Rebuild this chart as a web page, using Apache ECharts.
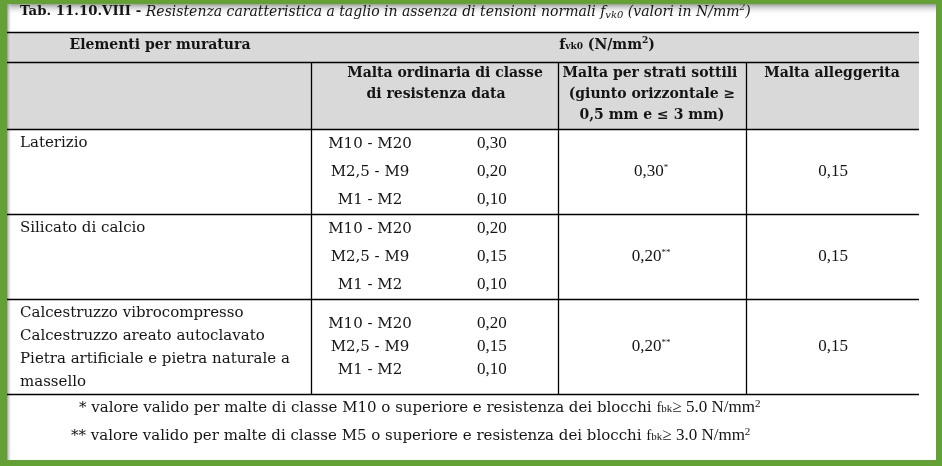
<!DOCTYPE html>
<html><head><meta charset="utf-8">
<script src="https://cdn.jsdelivr.net/npm/echarts@6/dist/echarts.min.js"></script>
<style>html,body{margin:0;padding:0;background:#fff}#c{width:942px;height:466px}</style>
</head><body><div id="c"></div>
<script>
// ---------------- DATA ----------------
const titleBold = "Tab. 11.10.VIII - ";
const titleItalic = "Resistenza caratteristica a taglio in assenza di tensioni normali ";
const titleUnit = " (valori in N/mm";
const headerElements = "Elementi per muratura";
const headerUnit = " (N/mm";
const colHeaders = [
  ["Malta ordinaria di classe", "di resistenza data"],
  ["Malta per strati sottili", "(giunto orizzontale \u2265", "0,5 mm e \u2264 3 mm)"],
  ["Malta alleggerita"]
];
const materials = [
  ["Laterizio"],
  ["Silicato di calcio"],
  ["Calcestruzzo vibrocompresso", "Calcestruzzo areato autoclavato", "Pietra artificiale e pietra naturale a", "massello"]
];
const mortarClasses = ["M10 - M20", "M2,5 - M9", "M1 - M2"];
const ordinaryValues = [
  ["0,30", "0,20", "0,10"],
  ["0,20", "0,15", "0,10"],
  ["0,20", "0,15", "0,10"]
];
const thinLayerValues = ["0,30", "0,20", "0,20"];
const thinLayerMarks = ["*", "**", "**"];
const lightweightValues = ["0,15", "0,15", "0,15"];
const footnoteMarks = ["*", "**"];
const footnoteClasses = ["M10", "M5"];
const footnoteLimits = ["5.0", "3.0"];

// ---------------- LAYOUT ----------------
const W = 942, H = 466;
const GREEN = '#64a134', INK = '#141414', HEAD = '#d9d9d9';
const P = "'DejaVu Serif', serif";
const T = "'Liberation Serif', serif";
const L = {
  tableLeft: 7, tableRight: 919,
  hTop: 32, hMid: 62, hBot: 129,
  rowLines: [214, 299, 394],
  vLines: [311, 558, 746],
  matX: 20, mortarCX: 370, valX: 477, thinCX: 651, lightCX: 833,
  colHeadCX: [[445, 436], [650, 652, 652], [832]],
  colHeadY: [73, 94, 115],
  matY: [[143], [228], [313, 336, 359, 382]],
  subY: [[144, 172, 200], [229, 257, 285], [324, 347, 370]],
  footX: [79, 71], footY: [408, 436]
};

const cv = document.createElement('canvas');
const ctx = cv.getContext('2d');
function fstr(p) { return (p.style || 'normal') + ' ' + (p.weight || 'normal') + ' ' + p.size + 'px ' + (p.fam || P); }
const els = [];
function txt(t, x, y, font, align, fill) {
  els.push({ type: 'text', x: x, y: y, silent: true, z: 10,
    style: { text: t, font: font, fill: fill || INK, align: align || 'left', verticalAlign: 'middle',
      textAlign: align || 'left', textVerticalAlign: 'middle' } });
}
function runs(parts, x, y, align) {
  const ws = parts.map(p => { ctx.font = fstr(p); return ctx.measureText(p.t).width; });
  const tot = ws.reduce((a, b) => a + b, 0);
  let sx = align === 'center' ? x - tot / 2 : x;
  parts.forEach((p, i) => { txt(p.t, sx, y + (p.dy || 0), fstr(p), 'left'); sx += ws[i]; });
}
function rect(x, y, w, h, fill, z) { els.push({ type: 'rect', silent: true, z: z || 1, shape: { x, y, width: w, height: h }, style: { fill } }); }
function line(x1, y1, x2, y2) { els.push({ type: 'line', silent: true, z: 5, shape: { x1, y1, x2, y2 }, style: { stroke: '#000', lineWidth: 1.3 } }); }

// background + header fill
rect(0, 0, W, H, '#ffffff', 0);
rect(L.tableLeft, L.hTop, L.tableRight - L.tableLeft, L.hBot - L.hTop, HEAD, 1);
// shadows
els.push({ type: 'rect', silent: true, z: 3, shape: { x: 7, y: 4, width: 929, height: 11 },
  style: { fill: new echarts.graphic.LinearGradient(0, 0, 0, 1, [{ offset: 0, color: 'rgba(140,140,140,0.85)' }, { offset: 1, color: 'rgba(255,255,255,0)' }]) } });
els.push({ type: 'rect', silent: true, z: 3, shape: { x: 7, y: 4, width: 5, height: 456 },
  style: { fill: new echarts.graphic.LinearGradient(0, 0, 1, 0, [{ offset: 0, color: 'rgba(140,140,140,0.9)' }, { offset: 1, color: 'rgba(255,255,255,0)' }]) } });
// green frame
rect(0, 0, 7, H, GREEN, 20);
rect(0, 0, W, 4, GREEN, 20);
rect(936, 0, 6, H, GREEN, 20);
rect(0, 460, W, 6, GREEN, 20);

// rules
[L.hTop, L.hMid, L.hBot].concat(L.rowLines).forEach(y => line(L.tableLeft, y + 0.5, L.tableRight, y + 0.5));
L.vLines.forEach(x => line(x + 0.5, L.hMid, x + 0.5, L.rowLines[2] + 0.5));

// title
runs([
  { t: titleBold, size: 13.3, weight: 'bold' },
  { t: titleItalic, size: 14, style: 'italic' },
  { t: 'f', size: 14, style: 'italic' },
  { t: 'vk0', size: 10, style: 'italic', dy: 3 },
  { t: titleUnit, size: 14, style: 'italic' },
  { t: '2', size: 9, style: 'italic', dy: -4 },
  { t: ')', size: 14, style: 'italic' }
], 20, 12, 'left');

// header row 1
runs([{ t: headerElements, size: 14, weight: 'bold' }], 160, 45, 'center');
runs([
  { t: 'f', size: 14, weight: 'bold' },
  { t: 'vk0', size: 9, weight: 'bold', dy: 2 },
  { t: headerUnit, size: 14, weight: 'bold' },
  { t: '2', size: 9, weight: 'bold', dy: -4 },
  { t: ')', size: 14, weight: 'bold' }
], 607, 45, 'center');

// column headers
colHeaders.forEach((lines, c) => lines.forEach((s, i) =>
  runs([{ t: s, size: 14, weight: 'bold' }], L.colHeadCX[c][i], L.colHeadY[i], 'center')));

// body
materials.forEach((lines, r) => lines.forEach((s, i) => runs([{ t: s, size: 15 }], L.matX, L.matY[r][i], 'left')));
mortarClasses.forEach((m, i) => {
  for (let r = 0; r < 3; r++) runs([{ t: m, size: 15 }], L.mortarCX, L.subY[r][i], 'center');
});
ordinaryValues.forEach((vals, r) => vals.forEach((v, i) => runs([{ t: v, size: 17, fam: T }], L.valX, L.subY[r][i], 'left')));
thinLayerValues.forEach((v, r) => runs([
  { t: v, size: 17, fam: T },
  { t: thinLayerMarks[r], size: 9, fam: T, dy: -4 }
], L.thinCX, L.subY[r][1], 'center'));
lightweightValues.forEach((v, r) => runs([{ t: v, size: 17, fam: T }], L.lightCX, L.subY[r][1], 'center'));

// footnotes
footnoteMarks.forEach((m, i) => runs([
  { t: m + ' valore valido per malte di classe ' + footnoteClasses[i] + ' o superiore e resistenza dei blocchi ', size: 15 },
  { t: 'f', size: 15, fam: T },
  { t: 'bk', size: 11, fam: T, dy: 1 },
  { t: '\u2265 ' + footnoteLimits[i] + ' N/mm', size: 17, fam: T },
  { t: '2', size: 11, fam: T, dy: -4 }
], L.footX[i], L.footY[i], 'left'));

const chart = echarts.init(document.getElementById('c'), null, { renderer: 'canvas' });
chart.setOption({ animation: false, graphic: { elements: els } });
</script></body></html>
